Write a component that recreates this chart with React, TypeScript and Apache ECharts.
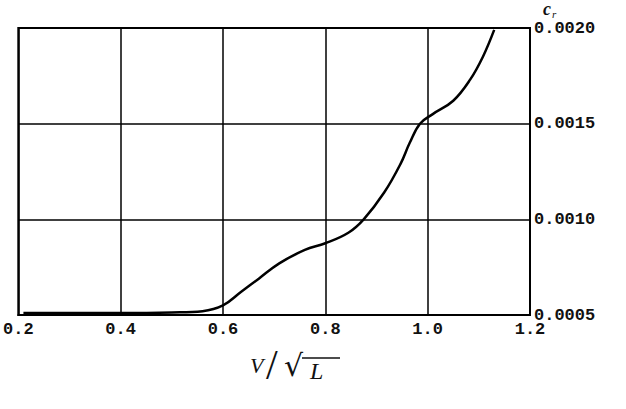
import React, { useEffect, useRef } from "react";
import * as echarts from "echarts";

const xValues = [0.21, 0.3, 0.4, 0.5, 0.56, 0.6, 0.635, 0.67, 0.71, 0.76, 0.8, 0.845, 0.875, 0.915, 0.947, 0.965, 0.985, 1.01, 1.05, 1.083, 1.108, 1.13];
const crValues = [0.00051, 0.00051, 0.00051, 0.000513, 0.00052, 0.00055, 0.00062, 0.00069, 0.00077, 0.00084, 0.000875, 0.00093, 0.001, 0.00114, 0.00129, 0.0014, 0.0015, 0.00155, 0.00162, 0.00173, 0.00185, 0.00199];
const xTicks = [0.2, 0.4, 0.6, 0.8, 1.0, 1.2];
const yTicks = [0.0005, 0.001, 0.0015, 0.002];

export default function App() {
  const ref = useRef<HTMLDivElement>(null);
  useEffect(() => {
    if (!ref.current) return;
    const chart = echarts.init(ref.current, null, { renderer: "svg" });
    const labelFont = {
      fontFamily: "Liberation Mono",
      fontWeight: "bold" as const,
      fontSize: 17,
      color: "#111",
    };
    chart.setOption({
      animation: false,
      backgroundColor: "#fff",
      grid: {
        left: 17,
        right: 96,
        top: 28,
        bottom: 94,
        show: true,
        borderColor: "#000",
        borderWidth: 2,
      },
      xAxis: {
        type: "value",
        min: xTicks[0],
        max: xTicks[xTicks.length - 1],
        interval: 0.2,
        axisLine: { show: true, lineStyle: { color: "#000", width: 2 } },
        axisTick: { show: false },
        splitLine: { show: true, lineStyle: { color: "#000", width: 1.5 } },
        axisLabel: {
          ...labelFont,
          margin: 6,
          formatter: (v: number) => v.toFixed(1),
        },
      },
      yAxis: {
        type: "value",
        position: "right",
        min: yTicks[0],
        max: yTicks[yTicks.length - 1],
        interval: 0.0005,
        axisLine: { show: true, lineStyle: { color: "#000", width: 2 } },
        axisTick: { show: false },
        splitLine: { show: true, lineStyle: { color: "#000", width: 1.5 } },
        axisLabel: {
          ...labelFont,
          margin: 4,
          formatter: (v: number) => v.toFixed(4),
        },
      },
      series: [
        {
          type: "line",
          data: xValues.map((x, i) => [x, crValues[i]]),
          smooth: 0.4,
          showSymbol: false,
          lineStyle: { color: "#000", width: 2.5 },
        },
      ],
      graphic: [
        {
          type: "text",
          left: 543,
          top: 0,
          style: {
            text: "c",
            fontFamily: "Liberation Serif",
            fontStyle: "italic",
            fontWeight: "bold",
            fontSize: 18,
            fill: "#111",
          },
        },
        {
          type: "text",
          left: 552,
          top: 8,
          style: {
            text: "r",
            fontFamily: "Liberation Serif",
            fontStyle: "italic",
            fontSize: 11,
            fill: "#111",
          },
        },
        {
          type: "text",
          left: 250,
          top: 354,
          style: { text: "V", fontFamily: "Liberation Serif", fontStyle: "italic", fontSize: 22, fill: "#111" },
        },
        {
          type: "text",
          left: 266,
          top: 344,
          style: { text: "/", fontFamily: "Liberation Serif", fontSize: 42, fill: "#111" },
        },
        {
          type: "text",
          left: 284,
          top: 350,
          style: { text: "√", fontFamily: "DejaVu Serif", fontSize: 30, fill: "#111" },
        },
        {
          type: "text",
          left: 310,
          top: 359,
          style: { text: "L", fontFamily: "Liberation Serif", fontStyle: "italic", fontSize: 24, fill: "#111" },
        },
        {
          type: "line",
          shape: { x1: 302, y1: 358, x2: 340, y2: 358 },
          style: { stroke: "#111", lineWidth: 1.5 },
        },
      ],
    });
    return () => chart.dispose();
  }, []);
  return (
    <div
      ref={ref}
      style={{ width: 626, height: 409, position: "fixed", left: 0, top: 0 }}
    />
  );
}
